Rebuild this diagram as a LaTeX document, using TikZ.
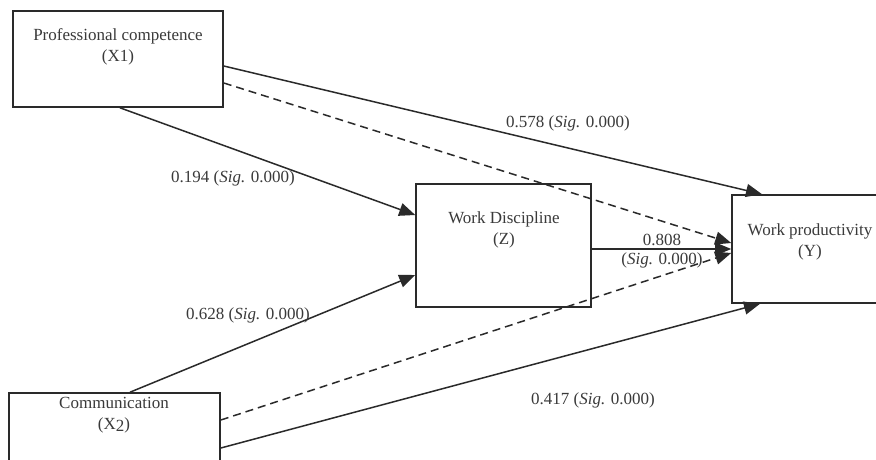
\documentclass[tikz,border=0pt]{standalone}
\usepackage{fontspec}
\setmainfont{Liberation Serif}
\usetikzlibrary{arrows.meta}
\definecolor{ink}{HTML}{2A2A2A}
\definecolor{tink}{HTML}{3A3A3A}
\begin{document}
\begin{tikzpicture}[x=1pt,y=-1pt,
  font=\fontsize{17}{21}\selectfont,
  box/.style={draw=ink, line width=1.6pt, rectangle, inner sep=0pt},
  txt/.style={text=tink, align=center, inner sep=0pt},
  conn/.style={draw=ink, line width=1.5pt, -{Triangle[length=16pt,width=13pt]}},
  dconn/.style={conn, dash pattern=on 8pt off 5pt}]
\useasboundingbox (0,0) rectangle (876,459);
\fill[white] (0,0) rectangle (876,459);
% boxes
\node[box, minimum width=210pt, minimum height=96pt] (x1) at (118,59) {};
\node[box, minimum width=175pt, minimum height=123pt] (z) at (503.5,245.5) {};
\node[box, minimum width=156pt, minimum height=108pt] (y) at (810,249) {};
\node[box, minimum width=211pt, minimum height=97pt] (x2) at (114.5,441.5) {};
% box texts
\node[txt] (x1t) at (118,46.5) {Professional competence\\(X1)};
\node[txt] (zt) at (504,229.5) {Work Discipline\\(Z)};
\node[txt] (yt) at (810,242) {Work productivity\\(Y)};
\node[txt] (x2t) at (114,415) {Communication\\(X\raisebox{-0.3ex}{2})};
% connectors
\draw[conn] ([yshift=-7pt]x1.east) -- ([xshift=-48pt]y.north);
\draw[dconn] ([yshift=-24pt]x1.east) -- ([yshift=6pt]y.west);
\draw[conn] ([xshift=2pt]x1.south) -- ([yshift=30.5pt]z.west);
\draw[conn] ([xshift=15.5pt]x2.north) -- ([yshift=-29.5pt]z.west);
\draw[dconn] ([yshift=21.5pt]x2.east) -- ([yshift=-4pt]y.west);
\draw[conn] ([yshift=-6.5pt]x2.east) -- ([xshift=-50pt]y.south);
\draw[conn] ([yshift=-3.5pt]z.east) -- ([yshift=0pt]y.west);
% labels
\node[txt] (l578) at (568,123) {0.578 (\textit{Sig.} 0.000)};
\node[txt] (l194) at (233,178) {0.194 (\textit{Sig.} 0.000)};
\node[txt] (l628) at (248,315) {0.628 (\textit{Sig.} 0.000)};
\node[txt] (l417) at (593,400) {0.417 (\textit{Sig.} 0.000)};
\node[txt] (l808a) at (662,240) {0.808};
\node[txt] (l808b) at (662,260) {(\textit{Sig.} 0.000)};
\end{tikzpicture}
\end{document}
